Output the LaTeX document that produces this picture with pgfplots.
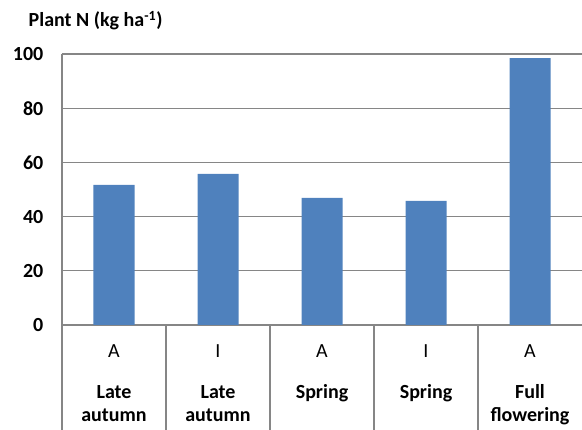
\documentclass[border=0pt]{standalone}
\usepackage{fontspec}
\setmainfont{Carlito}
\usepackage{pgfplots}
\pgfplotsset{compat=1.18}
\definecolor{barblue}{RGB}{79,129,189}
\definecolor{gridgray}{RGB}{134,134,134}
\begin{document}
\begin{tikzpicture}[font=\fontsize{15}{17.25}\selectfont]
  \begin{axis}[
    scale only axis, width=390pt, height=203.25pt,
    xmin=-0.5, xmax=4.5, ymin=0, ymax=100,
    axis x line*=bottom, axis y line*=left,
    axis line style={gridgray, line width=0.9pt},
    ytick={0,20,...,100}, ymajorgrids,
    major grid style={gridgray, line width=0.9pt},
    major tick length=0pt,
    /pgf/number format/assume math mode=true,
    yticklabel style={font=\fontsize{15}{17.25}\selectfont\bfseries, xshift=-10.5pt},
    xtick={0,1,2,3,4},
    xticklabels={
      A\\[13.5pt]\textbf{Late}\\\textbf{autumn},
      I\\[13.5pt]\textbf{Late}\\\textbf{autumn},
      A\\[13.5pt]\textbf{Spring}\\\strut,
      I\\[13.5pt]\textbf{Spring}\\\strut,
      A\\[13.5pt]\textbf{Full}\\\textbf{flowering}},
    xticklabel style={align=center, anchor=north, yshift=-11.5pt},
    extra x ticks={-0.5,0.5,1.5,2.5,3.5},
    extra x tick labels={},
    extra x tick style={major tick length=78.75pt, tick align=outside,
      xmajorgrids=false, tick style={gridgray, line width=0.9pt}},
    clip=false,
  ]
    \addplot[ybar, bar width=30.75pt, fill=barblue, draw=none]
      coordinates {(0,51.7) (1,55.8) (2,46.9) (3,45.8) (4,98.5)};
    \node[anchor=base west, font=\fontsize{15}{17.25}\selectfont\bfseries]
      at ([xshift=-28.5pt, yshift=20.25pt]rel axis cs:0,1) {Plant N (kg ha\textsuperscript{-1})};
  \end{axis}
  \pgfresetboundingbox
  \path[use as bounding box] ([xshift=-46.5pt, yshift=-78.75pt]current axis.south west)
    rectangle ([yshift=40.5pt]current axis.north east);
\end{tikzpicture}
\end{document}
